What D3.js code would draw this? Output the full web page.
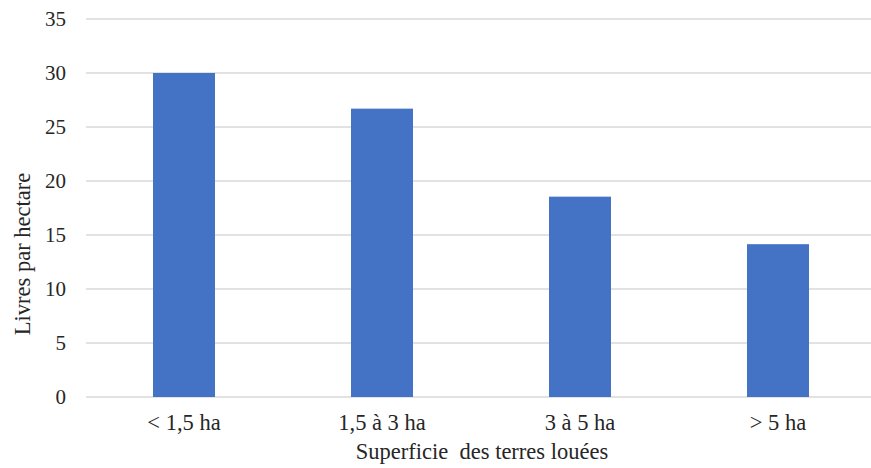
<!DOCTYPE html>
<html><head><meta charset="utf-8">
<script src="https://cdn.jsdelivr.net/npm/d3@7"></script>
<style>body{margin:0;background:#fff}svg{display:block}text{font-family:"Liberation Serif","Times New Roman",serif;fill:#262626}</style>
</head><body><svg id="c" width="871" height="468"></svg>
<script>
const categories = ["< 1,5 ha", "1,5 à 3 ha", "3 à 5 ha", "> 5 ha"];
const values = [30.0, 26.7, 18.55, 14.15];
const yTicks = [0, 5, 10, 15, 20, 25, 30, 35];
const xTitle = "Superficie  des terres louées";
const yTitle = "Livres par hectare";

const svg = d3.select("#c");
const x = d3.scaleBand().domain(categories).range([85, 877]).paddingInner(0.687).paddingOuter(0.3435);
const y = d3.scaleLinear().domain([0, 35]).range([397, 19]);

svg.append("g").selectAll("line").data(yTicks).join("line")
  .attr("x1", 86).attr("x2", 871)
  .attr("y1", d => y(d)).attr("y2", d => y(d))
  .attr("stroke", "#d9d9d9").attr("stroke-width", 1.3);

svg.append("g").selectAll("rect").data(values).join("rect")
  .attr("x", (d, i) => x(categories[i]))
  .attr("width", x.bandwidth())
  .attr("y", d => y(d))
  .attr("height", d => y(0) - y(d))
  .attr("fill", "#4472c4");

svg.append("g").selectAll("text").data(yTicks).join("text")
  .attr("x", 66).attr("y", d => y(d)).attr("dy", "0.35em")
  .attr("text-anchor", "end").attr("font-size", 21).text(d => d);

svg.append("g").selectAll("text").data(categories).join("text")
  .attr("x", d => x(d) + x.bandwidth() / 2).attr("y", 430)
  .attr("text-anchor", "middle").attr("font-size", 22.5).text(d => d);

svg.append("text").attr("x", 482).attr("y", 459).attr("text-anchor", "middle")
  .attr("font-size", 22.5).style("white-space", "pre").text(xTitle);

svg.append("text").attr("transform", "translate(30,254) rotate(-90)")
  .attr("text-anchor", "middle").attr("font-size", 22.5).text(yTitle);
</script></body></html>
